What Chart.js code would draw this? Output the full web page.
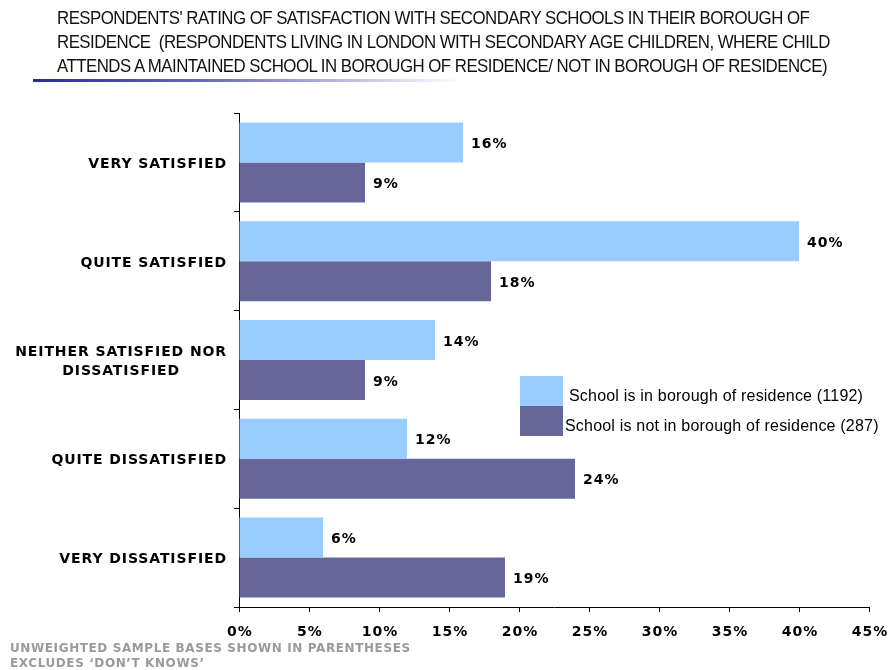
<!DOCTYPE html>
<html>
<head>
<meta charset="utf-8">
<script src="https://cdn.jsdelivr.net/npm/chart.js@4.4.1/dist/chart.umd.min.js"></script>
<style>
    body { margin: 0; background: #fff; }
    #wrap { position: relative; width: 890px; height: 670px; overflow: hidden; }
    #chart { position: absolute; left: 0; top: 0; }
    .title {
        position: absolute; left: 57px; top: 6px; width: 1000px;
        font-family: "Liberation Sans", Arial, sans-serif;
        font-size: 19px; line-height: 24px; color: #111; letter-spacing: -0.6px;
        white-space: nowrap;
        transform: scaleX(0.887); transform-origin: left top;
    }
    .rule {
        position: absolute; left: 33px; top: 79px; width: 430px; height: 3px;
        background: linear-gradient(to right, #2a2a9a, #6a6ab8 40%, #ffffff);
    }
    .foot {
        position: absolute; left: 10px; top: 641px;
        font-family: "DejaVu Sans", Verdana, sans-serif; font-weight: bold;
        font-size: 12px; line-height: 15px; color: #9a9a9a; letter-spacing: 0.6px;
        white-space: nowrap;
    }
</style>
</head>
<body>
<div id="wrap">
    <canvas id="chart" width="890" height="670"></canvas>
    <div class="title">RESPONDENTS' RATING OF SATISFACTION WITH SECONDARY SCHOOLS IN THEIR BOROUGH OF<br>RESIDENCE&nbsp; (RESPONDENTS LIVING IN LONDON WITH SECONDARY AGE CHILDREN, WHERE CHILD<br>ATTENDS A MAINTAINED SCHOOL IN BOROUGH OF RESIDENCE/ NOT IN BOROUGH OF RESIDENCE)</div>
    <div class="rule"></div>
    <div class="foot">UNWEIGHTED SAMPLE BASES SHOWN IN PARENTHESES<br>EXCLUDES ‘DON’T KNOWS’</div>
</div>
<script>
// Data
const categories = [
    ['VERY SATISFIED'],
    ['QUITE SATISFIED'],
    ['NEITHER SATISFIED NOR', 'DISSATISFIED'],
    ['QUITE DISSATISFIED'],
    ['VERY DISSATISFIED']
];
const seriesNames = [
    'School is in borough of residence (1192)',
    'School is not in borough of residence (287)'
];
const inBorough = [16, 40, 14, 12, 6];
const notInBorough = [9, 18, 9, 24, 19];
const xTicks = [0, 5, 10, 15, 20, 25, 30, 35, 40, 45];

const LIGHT = '#99ccff';
const DARK = '#666699';
const labelFont = 'bold 14px "DejaVu Sans", Verdana, sans-serif';

// y labels: lines centred, block right aligned
const yLabelsPlugin = {
    id: 'yLabels',
    afterDraw(chart) {
        const ctx = chart.ctx;
        const yScale = chart.scales.y;
        const right = yScale.right - 12;
        ctx.save();
        ctx.font = labelFont;
        ctx.letterSpacing = '0.9px';
        ctx.fillStyle = '#000';
        ctx.textAlign = 'center';
        ctx.textBaseline = 'middle';
        categories.forEach((lines, i) => {
            const maxW = Math.max(...lines.map(l => ctx.measureText(l).width));
            const cx = right - maxW / 2;
            const y = yScale.getPixelForValue(i);
            const lh = 19;
            lines.forEach((l, j) => {
                ctx.fillText(l, cx, y + 2 + (j - (lines.length - 1) / 2) * lh);
            });
        });
        ctx.restore();
    }
};

// x tick labels
const xLabelsPlugin = {
    id: 'xLabels',
    afterDraw(chart) {
        const ctx = chart.ctx;
        const xScale = chart.scales.x;
        ctx.save();
        ctx.font = labelFont;
        ctx.letterSpacing = '1px';
        ctx.fillStyle = '#000';
        ctx.textAlign = 'center';
        ctx.textBaseline = 'middle';
        xTicks.forEach(v => {
            ctx.fillText(v + '%', xScale.getPixelForValue(v) + 1, xScale.top + 25);
        });
        ctx.restore();
    }
};

// value labels at bar ends
const valueLabelsPlugin = {
    id: 'valueLabels',
    afterDatasetsDraw(chart) {
        const ctx = chart.ctx;
        ctx.save();
        ctx.font = labelFont;
        ctx.letterSpacing = '1px';
        ctx.fillStyle = '#000';
        ctx.textAlign = 'left';
        ctx.textBaseline = 'middle';
        chart.data.datasets.forEach((ds, di) => {
            chart.getDatasetMeta(di).data.forEach((bar, i) => {
                ctx.fillText(ds.data[i] + '%', bar.x + 8, bar.y + 2);
            });
        });
        ctx.restore();
    }
};

// legend boxes inside plot
const legendPlugin = {
    id: 'boxLegend',
    afterDraw(chart) {
        const ctx = chart.ctx;
        const x = 520, y = 376, w = 43, h = 30;
        ctx.save();
        ctx.font = '16px "Liberation Sans", Arial, sans-serif';
        ctx.letterSpacing = '0.2px';
        ctx.textBaseline = 'middle';
        chart.data.datasets.forEach((ds, i) => {
            ctx.fillStyle = ds.backgroundColor;
            ctx.fillRect(x, y + i * h, w, h + (i === 0 ? 1 : 0));
            ctx.fillStyle = '#000';
            ctx.fillText(ds.label, x + (i === 0 ? 49 : 45), y + i * h + h / 2 + 6);
        });
        ctx.restore();
    }
};

new Chart(document.getElementById('chart'), {
    type: 'bar',
    data: {
        labels: categories,
        datasets: [{
            label: seriesNames[0],
            data: inBorough,
            backgroundColor: LIGHT,
            borderWidth: 0,
            barPercentage: 1,
            categoryPercentage: 0.81
        }, {
            label: seriesNames[1],
            data: notInBorough,
            backgroundColor: DARK,
            borderWidth: 0,
            barPercentage: 1,
            categoryPercentage: 0.81
        }]
    },
    options: {
        indexAxis: 'y',
        responsive: false,
        animation: false,
        layout: { padding: { top: 113, right: 21, left: 0, bottom: 0 } },
        plugins: {
            legend: { display: false },
            tooltip: { enabled: false }
        },
        scales: {
            x: {
                min: 0,
                max: 45,
                afterBuildTicks: function (scale) {
                    scale.ticks = xTicks.map(v => ({ value: v }));
                },
                afterFit: function (scale) { scale.height = 63; },
                border: { display: true, color: '#000', width: 1 },
                grid: { drawOnChartArea: false, drawTicks: true, tickLength: 5, color: '#000' },
                ticks: { display: false }
            },
            y: {
                afterFit: function (scale) { scale.width = 239; },
                border: { display: true, color: '#000', width: 1 },
                grid: { drawOnChartArea: false, drawTicks: true, tickLength: 5, color: '#000', offset: true },
                ticks: { display: false }
            }
        }
    },
    plugins: [yLabelsPlugin, xLabelsPlugin, valueLabelsPlugin, legendPlugin]
});
</script>
</body>
</html>
